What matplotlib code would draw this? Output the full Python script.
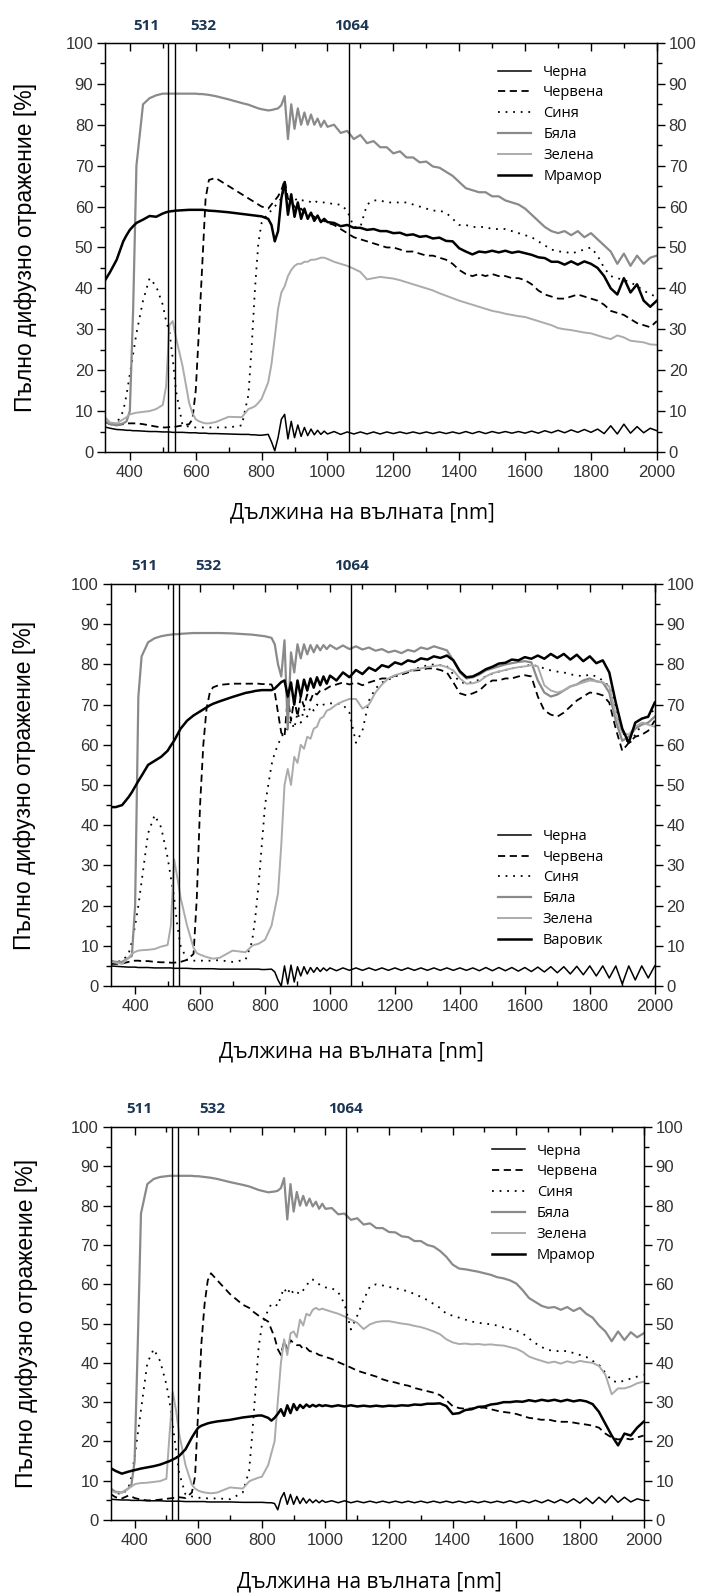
import matplotlib
matplotlib.use("Agg")
import matplotlib.pyplot as plt
from matplotlib.ticker import MultipleLocator

plt.rcParams['font.family'] = ['Liberation Sans', 'DejaVu Sans']
CAL = ['Open Sans', 'DejaVu Sans']

# wavelength grid [nm]
wl = [325, 340, 360, 380, 390, 400, 410, 420, 440, 460,
      480, 500, 510, 520, 530, 540, 560, 580, 590, 600,
      610, 620, 630, 640, 660, 700, 740, 760, 770, 780,
      790, 800, 820, 830, 840, 850, 860, 870]
wl += list(range(880, 1001, 10)) + list(range(1020, 2001, 20))

names_a = ['Черна', 'Червена', 'Синя', 'Бяла', 'Зелена', 'Мрамор']
names_b = ['Черна', 'Червена', 'Синя', 'Бяла', 'Зелена', 'Варовик']

laser_tags = ['511', '532', '1064']
laser_lines = [516, 536, 1064]

# ---------------- panel 1 ----------------
cherna1 = [6.1, 5.8, 5.5, 5.4, 5.3, 5.3, 5.2, 5.2, 5.1, 5.0,
           5.0, 4.9, 4.9, 4.9, 4.8, 4.8, 4.8, 4.7, 4.7, 4.7,
           4.6, 4.6, 4.6, 4.5, 4.5, 4.4, 4.3, 4.3, 4.2, 4.2,
           4.1, 4.1, 4.3, 2.5, 0.3, 3.5, 8.0, 9.2,
           3.2, 7.5, 3.5, 6.6, 3.8, 6.0, 4.0, 5.6, 4.2, 5.3, 4.3, 5.1, 4.4,
           5.0, 4.3, 4.9, 4.4, 4.9, 4.4, 4.9, 4.4, 4.9, 4.5,
           4.9, 4.5, 4.9, 4.5, 4.9, 4.5, 4.9, 4.5, 4.9, 4.5,
           5.0, 4.5, 5.0, 4.5, 5.0, 4.6, 5.0, 4.6, 5.0, 4.6,
           5.1, 4.6, 5.2, 4.7, 5.3, 4.7, 5.4, 4.8, 5.5, 4.8,
           5.6, 4.5, 6.4, 4.4, 6.8, 4.6, 6.2, 4.7, 5.8, 5.2]
chervena1 = [7.3, 6.8, 6.6, 6.8, 7.0, 7.0, 7.0, 7.0, 6.8, 6.5,
             6.2, 6.0, 6.0, 6.1, 6.2, 6.2, 6.5, 6.8, 8.0, 15.0,
             30.0, 46.0, 62.0, 66.5, 67.0, 65.0, 63.0, 62.0, 61.5, 61.0,
             60.5, 60.0, 59.5, 60.5, 61.5, 62.5, 64.0, 66.5,
             62.0, 61.0, 60.0, 59.0, 59.5, 58.5, 58.0, 58.0, 57.5, 57.0, 56.5, 56.5, 56.0,
             55.5, 54.5, 53.5, 52.5, 52.0, 51.5, 51.0, 50.5, 50.0, 50.0,
             49.5, 49.0, 49.0, 48.5, 48.0, 48.0, 47.5, 47.0, 46.0, 44.5,
             43.5, 43.0, 43.5, 43.0, 43.5, 43.0, 43.0, 42.5, 42.5, 42.0,
             41.0, 39.5, 38.5, 38.0, 37.5, 37.5, 38.0, 38.5, 38.0, 37.5,
             37.0, 36.0, 34.5, 34.0, 33.5, 32.5, 31.5, 31.0, 30.5, 32.0]
sinya1 = [7.5, 7.0, 7.0, 10.0, 14.0, 19.0, 24.0, 29.0, 37.0, 42.5,
          40.5, 36.0, 32.0, 29.5, 23.0, 15.0, 6.5, 6.2, 6.0, 6.0,
          6.0, 6.0, 6.0, 6.0, 6.0, 6.0, 6.5, 14.0, 26.0, 40.0,
          51.0, 56.0, 58.5, 59.0, 60.0, 61.0, 62.0, 64.5,
          63.0, 62.5, 61.5, 62.0, 61.5, 61.5, 61.5, 61.0, 61.5, 61.0, 61.0, 61.0, 61.0,
          60.5, 60.5, 59.0, 55.0, 55.0, 60.5, 61.5, 61.5, 61.0, 61.0,
          61.0, 61.0, 60.5, 60.0, 59.5, 59.0, 59.0, 58.5, 57.0, 55.5,
          55.5, 55.0, 55.0, 55.0, 54.5, 54.5, 54.5, 54.0, 53.5, 53.0,
          52.5, 51.5, 50.5, 49.5, 49.0, 49.0, 48.5, 49.0, 49.5, 50.0,
          48.0, 45.0, 43.0, 42.5, 42.0, 41.5, 40.5, 39.5, 38.5, 38.0]
byala1 = [7.5, 6.8, 6.5, 7.0, 7.5, 10.0, 35.0, 70.0, 85.0, 86.5,
          87.2, 87.6, 87.6, 87.6, 87.6, 87.6, 87.6, 87.6, 87.6, 87.6,
          87.5, 87.5, 87.4, 87.3, 87.0, 86.2, 85.3, 84.9, 84.6, 84.3,
          84.0, 83.8, 83.5, 83.6, 83.8, 84.0, 84.8, 87.0,
          76.5, 85.0, 79.0, 84.0, 80.0, 83.0, 80.0, 82.5, 80.0, 81.5, 79.5, 81.0, 79.5,
          80.0, 78.0, 78.5, 76.5, 77.5, 75.5, 76.0, 74.5, 74.5, 73.0,
          73.5, 72.0, 72.0, 70.8, 71.0, 69.8, 69.5, 68.5, 67.5, 66.0,
          64.5, 64.0, 63.5, 63.5, 62.5, 62.5, 61.5, 61.0, 60.5, 59.5,
          58.0, 56.5, 55.0, 54.0, 53.5, 54.0, 53.0, 54.0, 52.5, 53.5,
          52.0, 50.5, 49.0, 46.0, 48.5, 45.5, 48.0, 46.0, 47.5, 48.0]
zelena1 = [8.5, 7.2, 7.0, 8.0, 8.5, 9.2, 9.4, 9.6, 9.8, 10.0,
           10.5, 11.5, 16.0, 31.0, 32.0, 28.0, 21.0, 12.0, 9.5, 8.0,
           7.5, 7.2, 7.0, 7.0, 7.3, 8.6, 8.5, 10.5, 10.8, 11.2,
           12.0, 13.0, 17.0, 21.5, 28.0, 35.0, 39.0, 40.5,
           43.0, 44.5, 45.5, 46.0, 46.0, 46.5, 46.5, 47.0, 47.0, 47.2, 47.5, 47.5, 47.2,
           46.5, 46.0, 45.5, 44.8, 44.0, 42.2, 42.5, 42.8, 42.6, 42.4,
           42.0, 41.5, 41.0, 40.5, 40.0, 39.5, 38.8, 38.2, 37.6, 37.0,
           36.5, 36.0, 35.5, 35.0, 34.5, 34.2, 33.8, 33.5, 33.2, 33.0,
           32.5, 32.0, 31.5, 31.0, 30.3, 30.0, 29.8, 29.5, 29.2, 29.0,
           28.5, 28.0, 27.6, 28.5, 28.0, 27.2, 27.0, 26.8, 26.3, 26.2]
mramor1 = [42.0, 44.0, 47.0, 51.5, 53.0, 54.3, 55.2, 56.0, 56.8, 57.7,
           57.5, 58.3, 58.6, 58.8, 58.9, 59.0, 59.1, 59.2, 59.2, 59.2,
           59.2, 59.2, 59.1, 59.0, 58.9, 58.6, 58.2, 58.0, 57.9, 57.8,
           57.7, 57.6, 57.0, 55.5, 51.5, 54.0, 62.0, 66.0,
           58.0, 63.0, 57.5, 61.0, 57.0, 59.5, 57.0, 58.5, 56.5, 57.8, 56.2, 57.0, 56.2,
           56.0, 55.2, 55.5, 54.8, 54.8, 54.3, 54.5, 54.0, 54.0, 53.5,
           53.6, 53.0, 53.2, 52.6, 52.8, 52.2, 52.4, 51.6, 51.5, 49.8,
           49.0, 48.3, 49.0, 48.8, 49.2, 48.8, 49.2, 48.7, 49.0, 48.6,
           48.2, 47.6, 47.4, 46.5, 46.5, 45.8, 46.6, 45.8, 46.6, 46.0,
           45.0, 43.0, 40.0, 38.5, 42.5, 39.0, 41.0, 37.0, 35.5, 37.0]

# ---------------- panel 2 ----------------
cherna2 = [5.0, 4.9, 4.8, 4.7, 4.7, 4.7, 4.6, 4.6, 4.6, 4.5,
           4.5, 4.5, 4.5, 4.4, 4.4, 4.4, 4.4, 4.3, 4.3, 4.3,
           4.3, 4.3, 4.3, 4.3, 4.2, 4.2, 4.2, 4.2, 4.2, 4.2,
           4.1, 4.1, 4.2, 3.5, 1.5, 0.0, 5.0, 0.5,
           5.2, 1.0, 4.8, 2.5, 4.8, 3.0, 4.6, 3.4, 4.6, 3.6, 4.5, 3.8, 4.5,
           3.8, 4.5, 3.9, 4.5, 3.9, 4.5, 3.9, 4.5, 3.9, 4.5,
           3.9, 4.5, 3.9, 4.5, 3.9, 4.5, 3.9, 4.5, 3.9, 4.5,
           3.9, 4.5, 3.8, 4.6, 3.8, 4.6, 3.8, 4.6, 3.7, 4.6,
           3.6, 4.7, 3.5, 4.8, 3.3, 4.8, 3.0, 4.9, 2.8, 5.0,
           2.5, 5.0, 2.0, 5.0, 0.5, 5.0, 1.5, 5.0, 2.0, 5.0]
chervena2 = [5.5, 5.5, 5.6, 6.0, 6.2, 6.3, 6.3, 6.2, 6.2, 6.0,
             5.9, 5.9, 5.8, 5.8, 5.9, 6.0, 6.5, 8.0, 22.0, 45.0,
             60.0, 69.0, 73.0, 74.3, 74.9, 75.2, 75.2, 75.2, 75.2, 75.2,
             75.1, 75.1, 75.0, 73.0, 68.0, 63.0, 62.0, 72.0,
             66.0, 71.5, 67.0, 72.0, 69.5, 72.5, 71.0, 73.0, 72.5, 73.5, 73.5, 74.0, 74.5,
             75.0, 75.5, 75.0, 75.5, 74.8, 75.5, 76.0, 76.5, 76.5, 77.2,
             77.5, 78.0, 78.5, 78.6, 79.0, 79.0, 78.6, 78.0, 75.5, 72.8,
             72.3, 72.8, 73.5, 75.0, 76.0, 76.0, 76.5, 76.5, 77.0, 77.3,
             77.0, 72.0, 68.5, 67.5, 67.0, 68.0, 69.5, 71.0, 72.0, 73.0,
             72.8, 72.3, 70.5, 64.0, 58.5, 60.5, 62.0, 62.5, 63.5, 66.0]
sinya2 = [6.0, 6.0, 6.2, 8.0, 11.0, 15.0, 20.0, 26.0, 38.0, 42.5,
          39.5, 32.0, 27.0, 22.0, 15.0, 10.0, 6.5, 6.3, 6.3, 6.3,
          6.3, 6.3, 6.3, 6.4, 6.4, 6.0, 6.5, 11.0, 17.0, 25.0,
          35.0, 45.0, 55.0, 58.0, 60.0, 62.0, 63.0, 64.0,
          66.0, 64.0, 68.0, 65.5, 69.0, 67.0, 69.5, 68.5, 70.0, 69.5, 70.0, 70.0, 70.3,
          70.3, 70.0, 68.0, 60.5, 63.5, 71.0, 74.0, 75.5, 76.2, 77.0,
          77.5, 78.2, 78.8, 79.3, 79.8, 80.0, 79.8, 79.5, 77.5, 75.6,
          75.3, 75.6, 76.2, 77.0, 77.7, 78.2, 78.6, 79.0, 79.3, 79.5,
          80.0, 79.5, 79.0, 78.5, 78.2, 78.0, 77.5, 77.3, 77.0, 77.5,
          77.0, 76.0, 74.5, 69.5, 63.5, 60.0, 62.5, 65.0, 67.0, 69.0]
byala2 = [6.3, 6.0, 6.0, 7.0, 7.5, 20.0, 72.0, 82.0, 85.5, 86.5,
          87.0, 87.3, 87.4, 87.5, 87.5, 87.6, 87.7, 87.8, 87.8, 87.8,
          87.8, 87.8, 87.8, 87.8, 87.8, 87.7, 87.5, 87.4, 87.3, 87.2,
          87.1, 87.0, 86.6, 85.0, 80.0, 77.0, 86.0, 64.0,
          83.0, 78.0, 85.0, 81.5, 85.0, 82.5, 84.8, 83.0, 84.8, 83.5, 84.8, 83.8, 84.8,
          83.8, 84.7, 83.8, 84.5, 83.7, 84.2, 83.4, 83.8, 83.0, 83.4,
          82.8, 83.6, 83.2, 84.2, 83.8, 84.5, 84.0, 83.5, 81.0, 78.0,
          76.5, 76.8, 77.5, 78.5, 79.0, 79.5, 80.0, 80.3, 80.6, 80.8,
          80.5, 76.0, 73.0, 72.0, 72.5, 73.5, 74.5, 75.0, 76.0, 76.5,
          75.8, 75.5, 73.0, 66.0, 61.0, 62.0, 64.0, 65.0, 65.5, 67.0]
zelena2 = [6.0, 5.8, 5.5, 7.0, 8.0, 8.5, 8.8, 8.9, 9.0, 9.2,
           9.8, 10.2, 15.0, 31.5, 27.0, 22.0, 15.0, 9.5, 8.2, 7.8,
           7.5, 7.2, 7.0, 6.8, 7.0, 8.8, 8.4, 10.0, 10.3, 10.5,
           11.0, 11.5, 15.0, 19.0, 23.0, 35.0, 50.0, 54.0,
           50.0, 57.0, 55.5, 60.0, 59.0, 62.0, 61.5, 64.0, 64.5, 66.5, 67.0, 68.5, 68.8,
           70.0, 70.8, 71.4, 71.4, 69.0, 70.0, 73.0, 75.0, 76.5, 77.3,
           77.8, 78.3, 78.7, 79.0, 79.3, 79.6, 79.8, 79.3, 78.5, 76.5,
           75.2, 75.3, 75.8, 77.0, 77.8, 78.2, 78.6, 79.0, 79.3, 79.5,
           79.8, 79.5, 74.8, 73.5, 73.0, 73.5, 74.5, 75.0, 75.5, 76.0,
           75.8, 75.5, 74.5, 67.5, 63.0, 62.5, 64.5, 65.5, 65.0, 64.5]
varovik2 = [44.5, 44.5, 45.0, 47.0, 48.2, 49.6, 51.0, 52.3, 55.0, 56.0,
            57.0, 58.5, 59.8, 61.0, 62.5, 64.0, 66.0, 67.3, 67.8, 68.3,
            68.8, 69.3, 69.8, 70.2, 70.8, 71.9, 72.9, 73.2, 73.4, 73.5,
            73.6, 73.6, 73.6, 74.0, 74.8, 75.6, 76.0, 72.0,
            75.5, 70.0, 76.0, 72.0, 76.2, 73.5, 76.5, 74.2, 76.8, 74.8, 77.0, 75.2, 77.2,
            76.0, 78.0, 76.8, 78.6, 77.6, 79.2, 78.4, 79.8, 79.3, 80.5,
            80.0, 81.0, 80.6, 81.5, 81.2, 82.0, 81.6, 82.2, 81.0, 78.3,
            76.8, 77.0, 77.8, 78.8, 79.4, 80.2, 80.4, 81.2, 81.0, 81.8,
            81.4, 82.2, 81.4, 82.6, 81.6, 82.6, 81.2, 82.4, 80.8, 82.0,
            80.3, 81.0, 78.0, 70.5, 64.0, 60.5, 65.5, 66.5, 67.0, 70.5]

# ---------------- panel 3 ----------------
cherna3 = [5.3, 5.2, 5.1, 5.1, 5.0, 5.0, 5.0, 5.0, 4.9, 4.9,
           4.9, 4.8, 4.8, 4.8, 4.8, 4.8, 4.7, 4.7, 4.7, 4.7,
           4.7, 4.7, 4.6, 4.6, 4.6, 4.6, 4.5, 4.5, 4.5, 4.5,
           4.5, 4.5, 4.4, 4.4, 4.2, 2.6, 5.5, 7.0,
           4.0, 6.5, 4.0, 6.0, 4.2, 5.6, 4.3, 5.3, 4.4, 5.1, 4.4, 5.0, 4.5,
           4.9, 4.4, 4.9, 4.4, 4.8, 4.4, 4.8, 4.4, 4.8, 4.4,
           4.8, 4.4, 4.8, 4.4, 4.8, 4.4, 4.8, 4.4, 4.8, 4.4,
           4.8, 4.4, 4.8, 4.4, 4.8, 4.4, 4.8, 4.4, 4.9, 4.4,
           4.9, 4.4, 5.0, 4.4, 5.1, 4.4, 5.2, 4.4, 5.4, 4.3,
           5.6, 4.2, 5.8, 4.4, 6.2, 4.5, 5.8, 4.6, 5.4, 5.0]
chervena3 = [6.6, 5.8, 5.5, 6.2, 6.0, 5.6, 5.4, 5.2, 5.0, 5.0,
             5.2, 5.4, 5.5, 5.6, 5.7, 5.8, 5.6, 7.0, 11.0, 28.0,
             45.0, 55.0, 61.0, 62.8, 61.0, 57.5, 54.8, 54.0, 53.2, 52.6,
             52.0, 51.5, 50.5, 48.5, 46.5, 43.5, 42.0, 45.5,
             43.5, 45.8, 45.0, 44.5, 44.5, 43.5, 43.8, 43.0, 42.8, 42.5, 42.0, 41.8, 41.5,
             41.0, 40.2, 39.5, 38.8, 38.0, 37.5, 37.0, 36.5, 35.8, 35.3,
             35.0, 34.5, 34.2, 33.6, 33.2, 32.8, 32.4, 31.8, 30.5, 29.0,
             28.5, 28.3, 28.4, 28.6, 28.6, 28.2, 27.8, 27.5, 27.3, 27.0,
             26.5, 26.0, 25.8, 25.5, 25.6, 25.2, 25.0, 25.0, 24.8, 24.5,
             24.3, 24.0, 23.5, 22.0, 21.0, 20.5, 20.8, 20.5, 21.0, 21.5]
sinya3 = [7.5, 7.0, 6.5, 8.0, 11.0, 16.0, 22.0, 28.0, 40.0, 43.5,
          40.5, 34.5, 30.0, 24.0, 18.0, 12.0, 6.5, 6.0, 5.8, 5.7,
          5.6, 5.6, 5.5, 5.5, 5.5, 5.3, 7.0, 12.5, 22.0, 33.0,
          44.0, 49.5, 53.5, 55.0, 55.0, 54.5, 57.0, 59.0,
          57.5, 59.0, 57.5, 58.0, 57.5, 58.5, 59.5, 61.0, 61.2, 60.5, 60.0, 59.5, 59.2,
          59.0, 58.0, 55.0, 48.5, 52.0, 56.0, 59.5, 60.0, 59.7, 59.3,
          59.0, 58.6, 58.2, 57.5, 56.8, 56.0, 55.0, 54.0, 52.5, 52.0,
          51.5, 51.0, 50.5, 50.2, 50.0, 49.8, 49.5, 49.0, 48.6, 48.2,
          47.5, 46.2, 45.0, 44.0, 43.3, 43.0, 43.0, 43.0, 42.5, 42.0,
          41.5, 40.5, 39.5, 37.5, 35.5, 35.0, 35.5, 36.0, 36.5, 37.0]
byala3 = [8.0, 7.2, 7.0, 8.0, 9.0, 15.0, 45.0, 78.0, 85.5, 86.8,
          87.3, 87.5, 87.6, 87.6, 87.6, 87.6, 87.6, 87.6, 87.5, 87.5,
          87.4, 87.3, 87.2, 87.1, 86.8, 86.0, 85.3, 84.9, 84.6, 84.3,
          84.0, 83.8, 83.4, 83.5, 83.6, 83.8, 84.5, 87.0,
          76.5, 85.5, 78.5, 83.5, 80.0, 82.5, 80.0, 81.8, 79.8, 81.0, 79.2, 80.5, 79.2,
          79.4, 77.8, 78.0, 76.4, 76.8, 75.2, 75.5, 74.3, 74.3, 73.3,
          73.2, 72.2, 72.0, 71.0, 71.0, 70.0, 69.6, 68.5, 67.0, 65.0,
          64.0, 63.8, 63.5, 63.2, 62.8, 62.4, 61.8, 61.5, 61.0, 60.2,
          58.5, 56.5, 55.5, 54.5, 54.0, 54.2, 53.5, 54.2, 53.2, 54.0,
          52.5, 51.5, 49.5, 48.0, 45.5, 48.0, 45.8, 47.8, 46.5, 47.5]
zelena3 = [7.5, 7.0, 7.0, 8.0, 8.5, 9.1, 9.3, 9.4, 9.5, 9.7,
           9.9, 10.5, 22.0, 32.5, 28.0, 22.0, 14.0, 9.0, 8.0, 7.5,
           7.2, 7.0, 6.9, 6.8, 7.0, 8.3, 8.0, 9.8, 10.2, 10.5,
           10.8, 11.0, 14.0, 17.0, 20.0, 30.0, 40.0, 46.0,
           42.0, 47.5, 48.0, 46.5, 51.0, 49.5, 52.5, 52.0, 53.5, 54.0, 53.5, 53.8, 53.5,
           53.0, 52.5, 51.8, 51.0, 50.2, 48.6, 49.8, 50.4, 50.6, 50.6,
           50.3, 50.0, 49.8, 49.4, 49.1, 48.6, 48.0, 47.3, 46.0, 45.2,
           44.8, 44.9, 44.7, 44.8, 44.6, 44.7, 44.5, 44.4, 44.0, 43.6,
           42.8, 41.6, 41.0, 40.5, 40.0, 40.3, 39.8, 40.4, 40.0, 40.5,
           40.2, 40.0, 39.2, 37.0, 32.0, 33.5, 33.5, 34.0, 34.8, 35.2]
mramor3 = [13.2, 12.5, 11.8, 12.3, 12.5, 12.7, 12.9, 13.1, 13.4, 13.7,
           14.1, 14.7, 15.0, 15.4, 15.8, 16.3, 18.0, 21.0, 22.3, 23.5,
           24.0, 24.3, 24.6, 24.8, 25.1, 25.5, 26.1, 26.3, 26.4, 26.5,
           26.6, 26.6, 26.0, 25.3, 26.0, 27.0, 28.2, 26.5,
           29.2, 27.2, 29.5, 28.0, 29.3, 28.5, 29.4, 28.8, 29.3, 28.9, 29.3, 29.0, 29.2,
           28.9, 29.2, 28.9, 29.2, 28.9, 29.1, 28.9, 29.1, 28.9, 29.1,
           29.0, 29.2, 29.1, 29.4, 29.3, 29.6, 29.6, 29.7, 29.0, 27.0,
           27.2, 28.0, 28.2, 28.8, 28.9, 29.4, 29.6, 30.0, 30.0, 30.2,
           30.1, 30.5, 30.2, 30.6, 30.3, 30.6, 30.2, 30.6, 30.2, 30.5,
           30.2, 29.5, 27.5, 24.5, 21.5, 19.0, 22.0, 21.5, 23.5, 25.0]

styles = [
    dict(color='black', lw=1.1),
    dict(color='black', lw=1.3, ls=(0, (4, 2.5))),
    dict(color='black', lw=1.3, ls=(0, (1, 3.2))),
    dict(color='#8a8a8a', lw=1.6),
    dict(color='#ababab', lw=1.4),
    dict(color='black', lw=1.8),
]

panels = [
    dict(rect=[0.150, 0.7168, 0.787, 0.2563], names=names_a,
         data=[cherna1, chervena1, sinya1, byala1, zelena1, mramor1],
         tags=[449, 622, 1074], tag_y=1.042, leg=(0.712, 0.947),
         xl=(0.467, -0.149), yl=-0.145),
    dict(rect=[0.158, 0.3822, 0.776, 0.2519], names=names_b,
         data=[cherna2, chervena2, sinya2, byala2, zelena2, varovik2],
         tags=[430, 627, 1067], tag_y=1.045, leg=(0.711, 0.391),
         xl=(0.443, -0.164), yl=-0.158),
    dict(rect=[0.158, 0.0476, 0.760, 0.2462], names=names_a,
         data=[cherna3, chervena3, sinya3, byala3, zelena3, mramor3],
         tags=[416, 643, 1064], tag_y=1.046, leg=(0.715, 0.958),
         xl=(0.486, -0.158), yl=-0.158),
]

fig = plt.figure(figsize=(7.01, 15.96), dpi=100)

for p in panels:
    ax = fig.add_axes(p['rect'])
    for name, vals, st in zip(p['names'], p['data'], styles):
        ax.plot(wl, vals, label=name, **st)
    for x in laser_lines:
        ax.axvline(x, color='black', lw=1.0)
    for x, t in zip(p['tags'], laser_tags):
        ax.text(x, p['tag_y'], t, transform=ax.get_xaxis_transform(),
                ha='center', va='center', fontsize=11, fontweight='bold',
                color='#1c3553', family=CAL)

    ax.set_xlim(325, 2000)
    ax.set_ylim(0, 100)
    ax.xaxis.set_major_locator(MultipleLocator(200))
    ax.xaxis.set_minor_locator(MultipleLocator(100))
    ax.yaxis.set_major_locator(MultipleLocator(10))
    ax.yaxis.set_minor_locator(MultipleLocator(5))
    # left and right: ticks outward, labels on both sides
    ax.tick_params(axis='y', which='major', direction='out', length=5.5, width=1,
                   labelsize=12, labelcolor='#333333', pad=3,
                   left=True, right=True, labelleft=True, labelright=True)
    ax.tick_params(axis='y', which='minor', direction='out', length=3.5, width=1,
                   left=True, right=True)
    ax.tick_params(axis='x', which='major', direction='out', length=5.5, width=1,
                   labelsize=12, labelcolor='#333333', pad=4)
    ax.tick_params(axis='x', which='minor', direction='in', length=3.5, width=1)
    for s in ax.spines.values():
        s.set_linewidth(1.0)

    # top axis: inward ticks, no labels
    top = ax.twiny()
    top.set_xlim(ax.get_xlim())
    top.xaxis.set_major_locator(MultipleLocator(200))
    top.xaxis.set_minor_locator(MultipleLocator(100))
    top.tick_params(which='major', direction='in', length=5.5, width=1, labeltop=False)
    top.tick_params(which='minor', direction='in', length=3.5, width=1)

    ax.set_ylabel('Пълно дифузно отражение [%]', fontsize=16.5, va='center')
    ax.yaxis.set_label_coords(p['yl'], 0.5)
    ax.set_xlabel('Дължина на вълната [nm]', fontsize=15, family=CAL, va='center')
    ax.xaxis.set_label_coords(*p['xl'])

    ax.legend(loc='upper left', bbox_to_anchor=p['leg'], frameon=False,
              borderpad=0, borderaxespad=0, handlelength=2.3, handletextpad=0.8,
              labelspacing=0.4, prop={'family': CAL, 'size': 10.5})

fig.savefig('out.png', dpi=100)
